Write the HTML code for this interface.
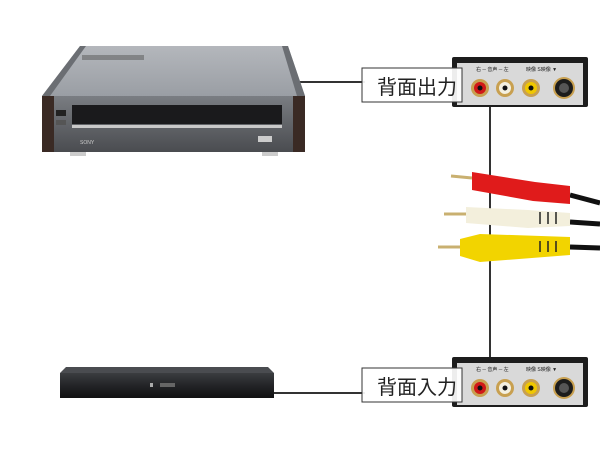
<!DOCTYPE html>
<html><head><meta charset="utf-8"><style>
html,body{margin:0;padding:0;background:#fff;width:600px;height:450px;overflow:hidden}
svg{display:block}
text{font-family:"Liberation Sans","Noto Sans CJK JP",sans-serif}
</style></head><body>
<svg width="600" height="450" viewBox="0 0 600 450" xmlns="http://www.w3.org/2000/svg">
<defs>
<linearGradient id="top" x1="0" y1="0" x2="0" y2="1"><stop offset="0" stop-color="#b4b7bc"/><stop offset="1" stop-color="#9a9ea4"/></linearGradient>
<linearGradient id="front" x1="0" y1="0" x2="0" y2="1"><stop offset="0" stop-color="#7a7d82"/><stop offset="1" stop-color="#4a4c50"/></linearGradient>
<linearGradient id="bd" x1="0" y1="0" x2="0" y2="1"><stop offset="0" stop-color="#3b3d40"/><stop offset="0.5" stop-color="#232427"/><stop offset="1" stop-color="#111"/></linearGradient>
</defs>
<line x1="290" y1="82" x2="365" y2="82" stroke="#333" stroke-width="2"/>
<line x1="490" y1="105" x2="490" y2="360" stroke="#333" stroke-width="2"/>
<line x1="272" y1="393" x2="365" y2="393" stroke="#333" stroke-width="2"/>
<!-- VCR -->
<polygon points="80,46 288,46 305,96 42,96" fill="url(#top)"/>
<polygon points="80,46 86,46 50,96 42,96" fill="#6b6e73"/>
<polygon points="282,46 288,46 305,96 297,96" fill="#6b6e73"/>
<rect x="82" y="55" width="62" height="5" fill="#555" opacity="0.5"/>
<rect x="42" y="96" width="263" height="56" fill="url(#front)"/>
<rect x="42" y="96" width="12" height="56" fill="#3a2a24"/>
<rect x="293" y="96" width="12" height="56" fill="#3a2a24"/>
<rect x="72" y="105" width="210" height="19" fill="#1a1a1c"/>
<rect x="72" y="125" width="210" height="3" fill="#c9c9c9"/>
<rect x="56" y="110" width="10" height="6" fill="#222"/>
<rect x="56" y="120" width="10" height="5" fill="#555"/>
<text x="80" y="144" font-size="5" fill="#ccc">SONY</text>
<rect x="258" y="136" width="14" height="6" fill="#ccc"/>
<rect x="70" y="152" width="16" height="4" fill="#ccc"/>
<rect x="262" y="152" width="16" height="4" fill="#ccc"/>
<!-- Recorder -->
<polygon points="66,367 268,367 274,373 60,373" fill="#4a4c50"/>
<rect x="60" y="373" width="214" height="25" fill="url(#bd)"/>
<rect x="150" y="383" width="3" height="4" fill="#aaa"/>
<rect x="160" y="383" width="15" height="4" fill="#666"/>
<!-- panels -->
<g id="p">
<rect x="452" y="57" width="136" height="50" rx="2" fill="#1d1d1d"/>
<rect x="457" y="63" width="126" height="42" fill="#d9d9d9"/>
<text x="476" y="71" font-size="5" fill="#222">右 ─ 音声 ─ 左</text>
<text x="526" y="71" font-size="5" fill="#222">映像 S映像 ▼</text>
<circle cx="480" cy="88" r="9" fill="#c8a050"/><circle cx="480" cy="88" r="6" fill="#d01818"/><circle cx="480" cy="88" r="2.5" fill="#111"/>
<circle cx="505" cy="88" r="9" fill="#c8a050"/><circle cx="505" cy="88" r="6" fill="#f4f0e0"/><circle cx="505" cy="88" r="2.5" fill="#111"/>
<circle cx="531" cy="88" r="9" fill="#c8a050"/><circle cx="531" cy="88" r="6" fill="#f0c800"/><circle cx="531" cy="88" r="2.5" fill="#111"/>
<circle cx="564" cy="88" r="11" fill="#c8a050"/><circle cx="564" cy="88" r="9" fill="#1c1c1c"/><circle cx="564" cy="88" r="5" fill="#555"/>
</g>
<use href="#p" transform="translate(0,300)"/>
<rect x="362" y="68" width="100" height="34" fill="#fff" fill-opacity="0.92" stroke="#333" stroke-width="1"/>
<text x="377" y="94" font-size="20" fill="#222">背面出力</text>
<rect x="362" y="368" width="100" height="34" fill="#fff" fill-opacity="0.92" stroke="#333" stroke-width="1"/>
<text x="377" y="394" font-size="20" fill="#222">背面入力</text>
<!-- cables -->
<g stroke="#111" stroke-width="5"><line x1="570" y1="195" x2="600" y2="203"/><line x1="570" y1="222" x2="600" y2="224"/><line x1="570" y1="247" x2="600" y2="248"/></g>
<line x1="451" y1="176" x2="472" y2="178" stroke="#c9b070" stroke-width="3"/>
<polygon points="472,172 535,182 570,186 570,204 533,201 472,190" fill="#e01b1b"/>
<line x1="444" y1="214" x2="466" y2="214" stroke="#c9b070" stroke-width="3"/>
<polygon points="466,207 528,210 570,213 570,226 528,228 466,223" fill="#f3efdc"/>
<line x1="438" y1="247" x2="460" y2="247" stroke="#c9b070" stroke-width="3"/>
<polygon points="460,239 480,234 570,237 570,255 480,262 460,256" fill="#f2d400"/>
<g stroke="#222" stroke-width="1.5"><line x1="540" y1="212" x2="540" y2="224"/><line x1="548" y1="212" x2="548" y2="224"/><line x1="556" y1="212" x2="556" y2="224"/><line x1="540" y1="241" x2="540" y2="252"/><line x1="548" y1="241" x2="548" y2="252"/><line x1="556" y1="241" x2="556" y2="252"/></g>
</svg>
</body></html>
